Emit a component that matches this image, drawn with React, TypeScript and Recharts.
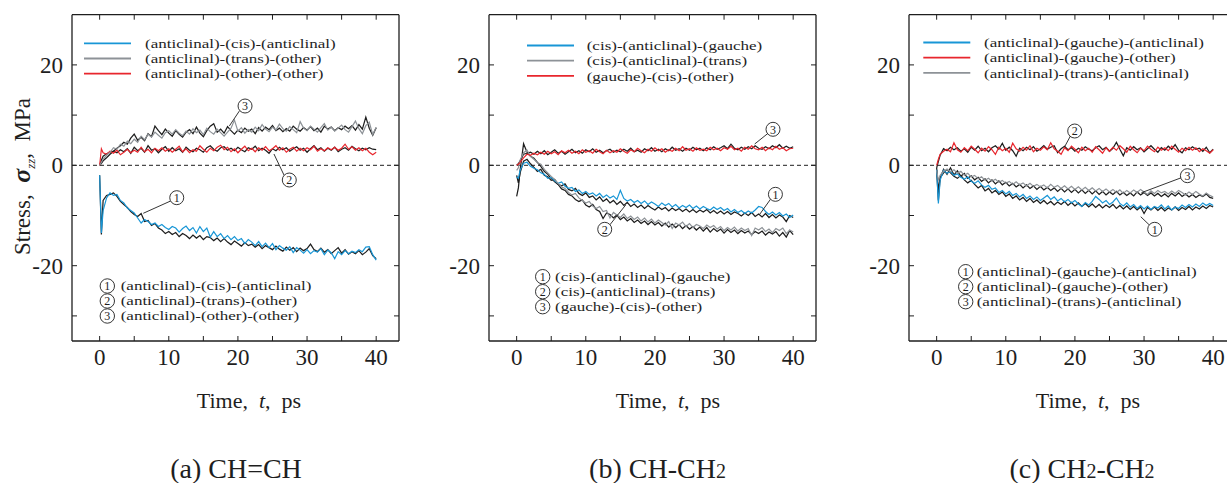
import React from "react";
import { LineChart, Line, XAxis, YAxis, ReferenceLine, ReferenceDot } from "recharts";

const FONT = '"Liberation Serif", "Times New Roman", serif';
const INK = "#1e1e1e";
const BLUE = "#1896d6";
const GRAY = "#8d9297";
const RED = "#e8262d";

// time axis, ps (finer at the start to catch the initial spike)
const TIME = [
  0, 0.25, 0.5, 1, 1.5, 2, 2.5, 3, 3.5, 4, 4.5, 5,
  5.5, 6, 6.5, 7, 7.5, 8, 8.5, 9, 9.5, 10,
  10.5, 11, 11.5, 12, 12.5, 13, 13.5, 14, 14.5, 15,
  15.5, 16, 16.5, 17, 17.5, 18, 18.5, 19, 19.5, 20,
  20.5, 21, 21.5, 22, 22.5, 23, 23.5, 24, 24.5, 25,
  25.5, 26, 26.5, 27, 27.5, 28, 28.5, 29, 29.5, 30,
  30.5, 31, 31.5, 32, 32.5, 33, 33.5, 34, 34.5, 35,
  35.5, 36, 36.5, 37, 37.5, 38, 38.5, 39, 39.5, 40,
];

const X_TICKS = [0, 5, 10, 15, 20, 25, 30, 35, 40];
const Y_TICKS = [-30, -20, -10, 0, 10, 20];
const X_DOMAIN = [-4, 43.3];
const Y_DOMAIN = [-35, 30];

// ---- (a) CH=CH ----
const A_BLUE = [
  -2, -13.5, -9, -6.5, -5.5, -6, -5.8, -7, -7.5, -8.5, -9, -9.5,
  -10.5, -11.5, -10.8, -11.2, -11.8, -11.5, -12.2, -11.8, -12.4, -12.8,
  -12.2, -12.5, -13.3, -12.6, -12.1, -13, -12.4, -13.5, -12.2, -13.2,
  -12.5, -14.3, -13.2, -14.2, -13.6, -14.6, -14, -14.8, -14.2, -15,
  -14.6, -15.6, -14.8, -15.3, -16, -15.2, -16.2, -15.5, -16.4, -15.6,
  -16.8, -16, -16.5, -16.9, -16.2, -17.4, -16.4, -16.9, -17.5, -16.8,
  -17.6, -17, -17.3, -16.6, -17.8, -16.9, -17.4, -18.6, -17.2, -17.8,
  -17, -17.6, -17.1, -17.4, -16.8, -17.2, -16.3, -16.2, -17.8, -18.9,
];
const A_BLUE_K = [
  -2, -13.8, -7, -6, -5.8, -5.5, -6.2, -7.2, -7.8, -8.4, -9.2, -9.8,
  -10.2, -9.6, -11.2, -11, -12, -11.6, -12.5, -12.9, -13.6, -13.2,
  -13.8, -13.4, -14.2, -13.6, -14, -14.6, -13.9, -14.5, -14, -14.8,
  -14.2, -14.4, -15, -14.5, -15.2, -14.6, -15.3, -15.8, -15.1, -15.6,
  -16.1, -15.4, -16, -15.7, -16.3, -15.8, -16.6, -16, -16.4, -16.8,
  -16.1, -16.7, -17.1, -16.3, -16.9, -16.4, -17.2, -16.5, -17, -16.6,
  -15.7, -16.8, -17.2, -16.5, -17.3, -16.8, -17.6, -17, -16.4, -17.5,
  -16.8, -17.7, -17.2, -17.6, -17, -17.8, -17.3, -16.6, -18, -18.6,
];
const A_RED = [
  0, 3.3, 2.5, 2.2, 2.8, 2.4, 3, 2.1, 2.6, 3.2, 2.5, 3,
  2.6, 3.6, 2.7, 3.2, 2.5, 3.4, 2.9, 3.5, 2.8, 3.3,
  2.6, 3.2, 3.8, 2.7, 3.3, 2.5, 3.1, 2.8, 3.9, 3.2,
  2.6, 3.4, 2.9, 3.6, 4, 3.1, 3.6, 2.7, 3.3, 2.5,
  3.2, 3.8, 2.9, 3.4, 2.7, 3.5, 3, 3.7, 2.9, 3.3,
  3.9, 3, 3.5, 2.6, 3.2, 3.6, 2.8, 3.4, 2.9, 3.5,
  3.1, 3.8, 2.8, 3.3, 2.9, 3.5, 3.1, 3.6, 3, 3.4,
  4.2, 3.2, 3.7, 3, 3.5, 2.9, 3.4, 2.6, 2.1, 2.6,
];
const A_RED_K = [
  0, 1, 1.8, 2.3, 2.6, 2.8, 2.5, 3.1, 2.7, 3.3, 2.4, 3.6,
  2.9, 3.4, 2.6, 3.9, 3, 3.3, 2.5, 3.2, 3.7, 2.8,
  3.5, 2.9, 3.3, 2.6, 3.6, 3, 2.7, 3.4, 3.1, 2.6,
  3.5, 3.9, 3.2, 2.8, 3.5, 3.7, 3, 3.4, 2.9, 3.6,
  3.1, 2.7, 3.5, 3.2, 3.8, 2.9, 3.4, 3, 2.4, 3.3,
  2.9, 3.6, 3.1, 3.5, 2.8, 3.3, 3.7, 3, 3.4, 2.6,
  3.3, 3.9, 3.1, 3.5, 2.8, 3.4, 3, 3.6, 2.7, 3.2,
  3.5, 3, 3.8, 3.3, 2.9, 3.4, 3.1, 3.5, 3.2, 3.1,
];
const A_GRAY = [
  0, 0.6, 1.2, 2, 2.6, 3.5, 3.2, 4.2, 3.8, 4.8, 4.3, 5.2,
  4.6, 5.8, 5.1, 6.2, 5.6, 6.6, 6, 5.4, 6.5, 6.9,
  6.2, 7.1, 6.4, 5.9, 6.8, 6.2, 7.3, 6.5, 7, 6.1,
  7.4, 6.7, 6.2, 7.2, 6.5, 5.8, 6.6, 7.4, 9, 6.8,
  7.5, 6.4, 7.1, 6.6, 7.6, 6.9, 8.1, 7.2, 6.7, 7.6,
  7, 8.2, 7.3, 6.8, 7.7, 7.1, 6.5, 8.7, 7.4, 6.9,
  7.8, 7.2, 6.6, 7.5, 8.3, 7, 7.6, 6.8, 7.4, 8,
  7.1, 6.6, 7.7, 8.8, 7.3, 6.3, 7.9, 8.6, 6.1, 7.6,
];
const A_GRAY_K = [
  0, 0.4, 0.9, 1.5, 2.2, 2.8, 3.4, 3.9, 4.6, 4.2, 5.4, 6.2,
  5, 5.6, 4.9, 6.3, 5.7, 7.8, 6.9, 6.1, 7.2, 6.4,
  5.8, 6.9, 6.2, 5.6, 6.6, 7.1, 6.3, 7.6, 6.4, 5.7,
  6.9, 7.8, 8.3, 6.6, 7.2, 6.4, 7.7, 6.9, 6.2, 7,
  6.5, 7.4, 6.8, 7.2, 6.3, 7.5, 6.8, 7.6, 7.1, 7.9,
  6.9, 7.4, 6.7, 7.3, 6.8, 7.8, 7.2, 6.8, 7.5, 7,
  7.7, 6.9, 7.4, 6.6, 7.8, 7.2, 7.6, 6.9, 7.5, 7.1,
  7.8, 7.3, 7.9, 7, 8.1, 7.2, 9.6, 7.4, 6, 7.5,
];

// ---- (b) CH-CH2 ----
const B_BLUE = [
  -2.3, -2.6, -1, 0.4, 0.6, -0.2, -0.6, -0.9, -1.5, -1.8, -2.6, -2.4,
  -3.1, -3.6, -3.3, -4.2, -4.6, -4.4, -5.2, -4.9, -5.6, -5.2,
  -5.8, -5.5, -6.1, -5.6, -6.4, -5.9, -6.5, -6.1, -6.8, -5,
  -6.6, -7.1, -6.8, -7.4, -7, -7.6, -7.1, -7.8, -7.3, -7.7,
  -8.2, -7.5, -8, -7.6, -8.3, -7.8, -8.5, -8, -8.4, -7.9,
  -8.6, -8.1, -8.7, -8.2, -8.6, -8.9, -8.3, -8.8, -8.4, -9,
  -8.6, -9.3, -8.8, -9.4, -9, -9.6, -9.1, -9.5, -8.9, -8.2,
  -8.4, -9.2, -9.8, -9.3, -9.9, -9.4, -10.1, -9.7, -10.4, -9.9,
];
const B_BLUE_K = [
  -2, -3.5, -1.5, 0.8, 1.2, 0.3, -0.4, -1.2, -0.8, -2, -2.3, -3,
  -2.8, -3.8, -4.1, -3.7, -4.8, -5.1, -4.6, -5.6, -6, -5.5,
  -6.4, -6.1, -6.9, -6.3, -7.2, -6.7, -7.5, -7, -7.8, -7.2,
  -8, -7.4, -8.2, -7.7, -8.4, -7.9, -8.6, -8, -8.5, -8.9,
  -8.3, -8.8, -8.4, -9.1, -8.5, -9, -8.6, -9.2, -8.7, -9.3,
  -8.8, -9.4, -8.9, -9.3, -8.8, -9.5, -9, -9.6, -9.1, -9.7,
  -9.2, -9.8, -9.3, -9.6, -10.1, -9.5, -10, -9.4, -10.2, -9.7,
  -10.3, -9.6, -10.4, -9.8, -10.5, -9.9, -10.3, -11.2, -10, -10.4,
];
const B_GRAY = [
  -1, -0.5, 1, 2.5, 3, 1.8, 1.2, 0.5, 0.2, -0.8, -1.5, -2.2,
  -2.8, -3.6, -4.3, -4.6, -5.4, -5.9, -5.6, -6.5, -7, -7.5,
  -7.2, -8.1, -8.6, -8.2, -9.2, -9, -10.5, -9.4, -9.9, -10.4,
  -9.7, -10.6, -10.1, -10.8, -10.3, -11.1, -10.5, -11.3, -10.7, -11.5,
  -10.9, -11.4, -11.9, -11.2, -12.6, -11.5, -11.9, -11.3, -12.2, -11.6,
  -12.4, -11.8, -12.1, -12.6, -11.9, -12.4, -12, -12.7, -12.2, -13,
  -12.4, -12.9, -12.3, -13.1, -12.5, -13, -12.6, -14, -12.5, -12.9,
  -12.4, -13.2, -12.7, -13.4, -12.6, -13, -12.5, -13.6, -12.9, -13.3,
];
const B_GRAY_K = [
  -6.2, -4.5, -1, 4.3, 2.6, 1.8, 1.4, 0.6, -0.2, -1.2, -1.8, -2.6,
  -3.3, -3.8, -4.7, -5, -5.8, -6.1, -6.8, -7.2, -6.9, -7.9,
  -8.3, -7.8, -8.8, -9.2, -10.6, -9.5, -9.8, -10.5, -9.9, -10.8,
  -10.3, -11.1, -10.6, -11.4, -10.9, -11.6, -11.1, -11.8, -11.2, -11.9,
  -11.4, -12.1, -11.5, -12.3, -11.7, -12.4, -11.8, -12.6, -12, -12.7,
  -12.2, -12.9, -12.3, -13.1, -12.4, -13.3, -12.6, -13.2, -12.7, -13.5,
  -12.8, -13.4, -12.9, -13.6, -13, -13.5, -13.1, -13.8, -13.2, -13.6,
  -13.1, -13.9, -13.3, -13.7, -13.2, -14.1, -13.4, -14.3, -13, -13.8,
];
const B_RED = [
  0, 0.2, 0.6, 1.5, 2.2, 2, 2.4, 2.1, 2.6, 2.2, 2.8, 2.3,
  2.7, 2.1, 2.9, 2.5, 3, 2.4, 2.8, 2.3, 3.1, 2.6,
  2.9, 2.4, 3.2, 2.7, 2.3, 3, 2.5, 2.9, 2.6, 3.3,
  2.8, 2.4, 3.1, 2.7, 3.4, 2.9, 2.5, 3.2, 2.8, 3.5,
  2.9, 3.3, 2.6, 3.1, 2.8, 3.4, 2.9, 3.7, 3, 3.3,
  2.8, 3.5, 3, 3.2, 2.9, 3.6, 3.1, 3.4, 2.9, 3.5,
  3.2, 3.8, 3.1, 3.4, 2.8, 3.6, 3.2, 3.9, 3.3, 3.1,
  3.6, 2.9, 3.5, 3.1, 3.8, 3.2, 3.5, 2.9, 3.3, 3.4,
];
const B_RED_K = [
  0, 0.3, 0.9, 2.2, 2.4, 2.6, 2.2, 2.8, 2.3, 2.9, 2.1, 2.6,
  3.1, 2.4, 2.8, 2.2, 2.7, 3.2, 2.5, 2.9, 2.4, 3.1,
  2.7, 3.3, 2.6, 3, 2.5, 2.9, 3.2, 2.6, 3, 2.7,
  3.2, 2.8, 3.4, 2.7, 3, 2.6, 3.3, 2.9, 3.5, 2.8,
  3.2, 2.7, 3.3, 2.9, 3.6, 3, 3.3, 2.8, 3.4, 3,
  3.6, 3.1, 3.4, 2.9, 3.5, 3.1, 3.7, 3.2, 3.5, 3.9,
  3.3, 4.2, 3.4, 3.1, 3.6, 3.2, 3.7, 3.3, 3.9, 3.4,
  3.2, 3.7, 3.3, 3.9, 3.5, 4.1, 3.4, 3.8, 3.4, 3.7,
];

// ---- (c) CH2-CH2 ----
const C_BLUE = [
  -0.9, -7.6, -3, -1, -1.6, -1.2, -2, -1.7, -2.4, -2.8, -2.3, -3.2,
  -3.6, -3.1, -3.9, -4.4, -4, -4.8, -4.5, -5.4, -5, -5.7,
  -5.2, -6, -5.6, -6.3, -5.8, -6.6, -6.1, -6.8, -6.3, -7,
  -6.5, -6, -6.8, -6.3, -7.1, -6.6, -7.3, -6.8, -7.5, -7,
  -7.7, -8.2, -7.4, -7.9, -7.2, -6.2, -6.8, -7.5, -7, -7.8,
  -7.3, -6.5, -7.6, -8.1, -7.5, -8.3, -7.8, -8.6, -8, -8.7,
  -8.1, -8.8, -8.2, -8.5, -7.9, -8.7, -8.1, -8.9, -8.3, -8.6,
  -7.9, -8.4, -7.8, -8.3, -7.7, -8.2, -7.5, -8, -7.6, -8,
];
const C_BLUE_K = [
  -1, -7, -2.5, -1.5, -0.8, -1.5, -2.2, -2.6, -2, -2.9, -3.5, -3,
  -3.8, -4.5, -4, -5.1, -4.6, -5.5, -5, -5.8, -5.3, -6.2,
  -5.7, -6.6, -6.1, -6.9, -6.4, -7.2, -6.6, -7.4, -6.9, -7.6,
  -7, -7.7, -7.2, -7.9, -7.3, -7.8, -7.2, -8, -7.4, -8.1,
  -7.5, -8.2, -7.6, -8.3, -7.7, -8.4, -7.8, -8.5, -7.9, -8.4,
  -7.8, -8.6, -8, -8.7, -8.1, -8.8, -8.2, -8.9, -8.3, -9.6,
  -8.4, -8.9, -8.3, -9, -8.4, -9.1, -8.5, -8.9, -8.3, -9,
  -8.4, -8.8, -8.2, -8.9, -8.3, -8.7, -8.1, -8.6, -8, -8.3,
];
const C_RED = [
  0, 1.2, 2.2, 2.8, 3.2, 2.7, 4.5, 3.1, 2.6, 3.5, 2.9, 3.8,
  3.2, 2.5, 3.4, 2.8, 3.7, 3.1, 2.2, 3.6, 2.9, 3.4,
  2.6, 4.4, 3.3, 2.8, 3.6, 3, 3.9, 2.7, 3.4, 3,
  3.7, 3.1, 4.5, 3.3, 2.8, 2.2, 3.5, 2.9, 3.8, 3.2,
  2.5, 3.6, 2.9, 3.4, 2.6, 3.7, 3.1, 2.4, 3.5, 2.8,
  3.6, 3, 3.9, 3.3, 2.6, 3.8, 3.1, 2.5, 3.4, 2.9,
  3.8, 3.2, 2.7, 3.6, 3, 3.5, 2.9, 3.8, 3.2, 2.6,
  3.4, 2.9, 3.6, 3, 3.5, 2.7, 3.3, 2.9, 2.4, 3.1,
];
const C_RED_K = [
  -0.5, 0.8, 2, 3.3, 2.9, 3.6, 3.1, 3.5, 2.8, 3.3, 2.6, 3.6,
  3, 3.8, 2.9, 3.4, 2.7, 3.5, 3.9, 3.2, 4.4, 3,
  3.6, 2.9, 1.8, 3.4, 2.9, 3.6, 3.1, 3.7, 2.8, 3.3,
  3.9, 3.2, 3.6, 3.9, 2.5, 3.3, 3.8, 3.1, 3.5, 2.8,
  3.4, 3, 3.7, 3.2, 2.9, 3.5, 3.9, 3.1, 3.6, 2.8,
  3.4, 4.6, 3.2, 1.9, 3.5, 3, 3.7, 3.1, 3.5, 2.7,
  3.3, 3.9, 3.2, 2.6, 3.5, 3, 3.8, 3.2, 4.1, 3,
  2.5, 3.5, 3.1, 3.7, 3.2, 3.4, 2.8, 3.6, 2.5, 3.2,
];
const C_GRAY = [
  -1, -3, -2, -1.2, -0.8, -1.3, -0.9, -1.6, -1.2, -2, -1.6, -2.3,
  -2, -2.7, -2.3, -3, -2.6, -3.2, -2.8, -3.4, -3, -3.6,
  -3.2, -3.8, -3.3, -3.9, -3.5, -4.1, -3.6, -4.2, -3.8, -4.3,
  -3.9, -4.5, -3.8, -4.4, -4, -4.6, -4.1, -4.7, -4.2, -4.8,
  -4.3, -4.9, -4.4, -5, -4.5, -5.1, -4.6, -5.2, -4.7, -5.3,
  -4.8, -5.4, -4.9, -5.6, -5, -5.5, -4.9, -5.4, -4.8, -5.3,
  -5.8, -5.1, -5.6, -5, -5.5, -5.2, -5.7, -5.1, -5.6, -5,
  -5.4, -5.9, -5.3, -5.8, -5.2, -5.7, -6.1, -5.5, -6, -6.3,
];
const C_GRAY_K = [
  -0.5, -5, -2.5, -0.8, -1.8, -0.5, -1.9, -1.1, -2.2, -1.6, -2.6, -2.1,
  -2.9, -2.4, -3.2, -2.7, -3.5, -2.9, -3.7, -3.1, -3.9, -3.4,
  -4.1, -3.6, -4.3, -3.8, -4.5, -3.9, -4.6, -4.1, -4.8, -4.2,
  -4.9, -4.4, -5, -4.5, -5.2, -4.6, -5.3, -4.7, -5.4, -4.8,
  -5.5, -4.9, -5.6, -5, -5.7, -5.1, -5.8, -5.2, -5.9, -5.3,
  -5.8, -5.2, -5.9, -5.4, -6, -5.5, -6.1, -5.3, -5.9, -5.4,
  -6, -5.5, -6.1, -5.6, -6.2, -5.7, -6.3, -5.6, -6.1, -5.5,
  -6.2, -5.7, -6.3, -5.8, -6.4, -5.9, -6.2, -5.7, -6.4, -6.6,
];

const A_LEGEND = ["(anticlinal)-(cis)-(anticlinal)", "(anticlinal)-(trans)-(other)", "(anticlinal)-(other)-(other)"];
const B_LEGEND = ["(cis)-(anticlinal)-(gauche)", "(cis)-(anticlinal)-(trans)", "(gauche)-(cis)-(other)"];
const C_LEGEND = ["(anticlinal)-(gauche)-(anticlinal)", "(anticlinal)-(gauche)-(other)", "(anticlinal)-(trans)-(anticlinal)"];

// callout bubbles: number, bubble centre, leader from -> to (data units)
const A_CALLOUTS = [
  { n: "1", at: [11.15, -6.45], from: [10.28, -7.1], to: [6.31, -9.56] },
  { n: "2", at: [27.43, -2.93], from: [26.66, -1.93], to: [25.21, 2.25] },
  { n: "3", at: [21.03, 11.81], from: [20.2, 10.8], to: [18.76, 7.83] },
];
const B_CALLOUTS = [
  { n: "1", at: [37.43, -5.78], from: [36.75, -6.71], to: [35.16, -9.76] },
  { n: "2", at: [12.74, -12.75], from: [13.46, -11.89], to: [15.77, -7.91] },
  { n: "3", at: [37.08, 7.17], from: [36.36, 6.37], to: [34.43, 4.24] },
];
const C_CALLOUTS = [
  { n: "1", at: [31.54, -12.75], from: [30.92, -12.09], to: [29.52, -10.24] },
  { n: "2", at: [19.97, 6.83], from: [19.35, 5.84], to: [18.52, 3.71] },
  { n: "3", at: [36.27, -2.07], from: [35.4, -2.47], to: [29.62, -5.46] },
];

const rowsOf = (s: number[][]) =>
  TIME.map((t, i) => ({ t, k1: s[0][i], k2: s[1][i], k3: s[2][i], c1: s[3][i], c2: s[4][i], c3: s[5][i] }));

const PANELS = [
  {
    left: 0,
    rows: rowsOf([A_BLUE_K, A_RED_K, A_GRAY_K, A_BLUE, A_RED, A_GRAY]),
    colors: [BLUE, RED, GRAY],
    legend: A_LEGEND,
    legendColors: [BLUE, GRAY, RED],
    callouts: A_CALLOUTS,
    leg: { lineX: 84, textX: 145, y: 43.3 },
    note: { cx: 107.3, textX: 120.7, y: 286 },
    xlab: 249,
    cap: 236,
    capText: ["(a) CH=CH"],
  },
  {
    left: 417.3,
    rows: rowsOf([B_BLUE_K, B_GRAY_K, B_RED_K, B_BLUE, B_GRAY, B_RED]),
    colors: [BLUE, GRAY, RED],
    legend: B_LEGEND,
    legendColors: [BLUE, GRAY, RED],
    callouts: B_CALLOUTS,
    leg: { lineX: 109.7, textX: 169.4, y: 45.5 },
    note: { cx: 125.4, textX: 137.7, y: 276.7 },
    xlab: 668,
    cap: 657.5,
    capText: ["(b) CH-CH", "2"],
  },
  {
    left: 837.3,
    rows: rowsOf([C_BLUE_K, C_RED_K, C_GRAY_K, C_BLUE, C_RED, C_GRAY]),
    colors: [BLUE, RED, GRAY],
    legend: C_LEGEND,
    legendColors: [BLUE, RED, GRAY],
    callouts: C_CALLOUTS,
    leg: { lineX: 86, textX: 146.7, y: 42.5 },
    note: { cx: 128.4, textX: 139.4, y: 271.7 },
    xlab: 1088,
    cap: 1082,
    capText: ["(c) CH", "2", "-CH", "2"],
  },
];

const BottomTick = (p: any) => {
  const v = p.payload.value;
  return (
    <g>
      <line x1={p.x} x2={p.x} y1={p.y} y2={p.y - 5} stroke={INK} strokeWidth={1} />
      {v % 10 === 0 && (
        <text x={p.x} y={p.y + 24} textAnchor="middle" fontSize={23} fill={INK} fontFamily={FONT}>{v}</text>
      )}
    </g>
  );
};
const TopTick = (p: any) => <line x1={p.x} x2={p.x} y1={p.y} y2={p.y + 5} stroke={INK} strokeWidth={1} />;
const LeftTick = (p: any) => {
  const v = p.payload.value;
  return (
    <g>
      <line x1={p.x} x2={p.x + 5} y1={p.y} y2={p.y} stroke={INK} strokeWidth={1} />
      {v % 20 === 0 && (
        <text x={p.x - 9} y={p.y + 7.8} textAnchor="end" fontSize={23} fill={INK} fontFamily={FONT}>{v}</text>
      )}
    </g>
  );
};
const RightTick = (p: any) => <line x1={p.x - 5} x2={p.x} y1={p.y} y2={p.y} stroke={INK} strokeWidth={1} />;

const axisLine = { stroke: INK, strokeWidth: 1.3 };

function Panel({ cfg }: { cfg: any }) {
  return (
    <div style={{ position: "absolute", left: cfg.left, top: 0 }}>
      <LineChart
        width={420}
        height={483}
        data={cfg.rows}
        margin={{ top: 4.7, right: 11, bottom: 112, left: 0 }}
        style={{ fontFamily: FONT }}
      >
        <XAxis dataKey="t" type="number" domain={X_DOMAIN} ticks={X_TICKS} allowDataOverflow interval={0}
          height={30} tickSize={0} tickMargin={0} tickLine={false} axisLine={axisLine} tick={BottomTick} />
        <XAxis xAxisId="top" orientation="top" dataKey="t" type="number" domain={X_DOMAIN} ticks={X_TICKS}
          allowDataOverflow interval={0} height={10} tickSize={0} tickMargin={0} tickLine={false} axisLine={axisLine} tick={TopTick} />
        <YAxis type="number" domain={Y_DOMAIN} ticks={Y_TICKS} allowDataOverflow interval={0} width={72}
          tickSize={0} tickMargin={0} tickLine={false} axisLine={axisLine} tick={LeftTick} />
        <YAxis yAxisId="right" orientation="right" type="number" domain={Y_DOMAIN} ticks={Y_TICKS} allowDataOverflow
          interval={0} width={10} tickSize={0} tickMargin={0} tickLine={false} axisLine={axisLine} tick={RightTick} />
        <ReferenceLine y={0} stroke={INK} strokeWidth={1} strokeDasharray="4 3" />
        {["k1", "k2", "k3"].map((k) => (
          <Line key={k} dataKey={k} type="linear" stroke={INK} strokeWidth={1.25} dot={false} isAnimationActive={false} />
        ))}
        {["c1", "c2", "c3"].map((k, i) => (
          <Line key={k} dataKey={k} type="linear" stroke={cfg.colors[i]} strokeWidth={1.2} dot={false} isAnimationActive={false} />
        ))}
        {cfg.callouts.map((c: any) => (
          <ReferenceLine key={"l" + c.n} segment={[{ x: c.from[0], y: c.from[1] }, { x: c.to[0], y: c.to[1] }]}
            stroke={INK} strokeWidth={0.9} />
        ))}
        {cfg.callouts.map((c: any) => (
          <ReferenceDot key={"d" + c.n} x={c.at[0]} y={c.at[1]} r={7} fill="#fff" stroke={INK} strokeWidth={0.9}
            label={{ value: c.n, position: "center", fontSize: 12, fill: INK, fontFamily: FONT }} />
        ))}
      </LineChart>
    </div>
  );
}

// small legend text: compact face, widened to the reference's run length
const SMALL = 13.4;
const WIDEN = 1.27;
const Small = ({ x, y, children }: { x: number; y: number; children: any }) => (
  <text transform={`translate(${x},${y}) scale(${WIDEN},1)`} fontSize={SMALL} fill={INK}>{children}</text>
);

function Overlay() {
  return (
    <svg width={1227} height={483} style={{ position: "absolute", left: 0, top: 0, fontFamily: FONT }}>
      <text transform="translate(30,176.5) rotate(-90)" textAnchor="middle" fontSize={23} fill={INK} xmlSpace="preserve">
        {"Stress,  "}
        <tspan fontStyle="italic" fontWeight="bold" fontSize={26}>σ</tspan>
        <tspan fontStyle="italic" fontSize={13} dy={5}>zz</tspan>
        <tspan dy={-5}>{",  MPa"}</tspan>
      </text>
      {PANELS.map((p, pi) => (
        <g key={pi}>
          <text x={p.xlab} y={407.7} textAnchor="middle" fontSize={22} fill={INK} xmlSpace="preserve">
            {"Time,  "}
            <tspan fontStyle="italic">t</tspan>
            {",  ps"}
          </text>
          <text x={p.cap} y={478} textAnchor="middle" fontSize={28} fill={INK}>
            {p.capText.map((s, i) => (
              <tspan key={i} fontSize={s === "2" ? 20 : 28}>{s}</tspan>
            ))}
          </text>
          {p.legend.map((s, i) => (
            <g key={i}>
              <line x1={p.left + p.leg.lineX} x2={p.left + p.leg.lineX + 47}
                y1={p.leg.y + i * 15.2} y2={p.leg.y + i * 15.2} stroke={p.legendColors[i]} strokeWidth={1.8} />
              <Small x={p.left + p.leg.textX} y={p.leg.y + i * 15.2 + 4.6}>{s}</Small>
            </g>
          ))}
          {p.legend.map((s, i) => (
            <g key={"n" + i}>
              <circle cx={p.left + p.note.cx} cy={p.note.y + i * 15} r={7.2} fill="#fff" stroke={INK} strokeWidth={0.9} />
              <text x={p.left + p.note.cx} y={p.note.y + i * 15 + 4.2} textAnchor="middle" fontSize={12} fill={INK}>{i + 1}</text>
              <Small x={p.left + p.note.textX} y={p.note.y + i * 15 + 4.3}>{s}</Small>
            </g>
          ))}
        </g>
      ))}
    </svg>
  );
}

export default function App() {
  return (
    <div style={{ position: "absolute", left: 0, top: 0, width: 1227, height: 483, overflow: "hidden", background: "#fff" }}>
      {PANELS.map((p, i) => (
        <Panel key={i} cfg={p} />
      ))}
      <Overlay />
    </div>
  );
}
